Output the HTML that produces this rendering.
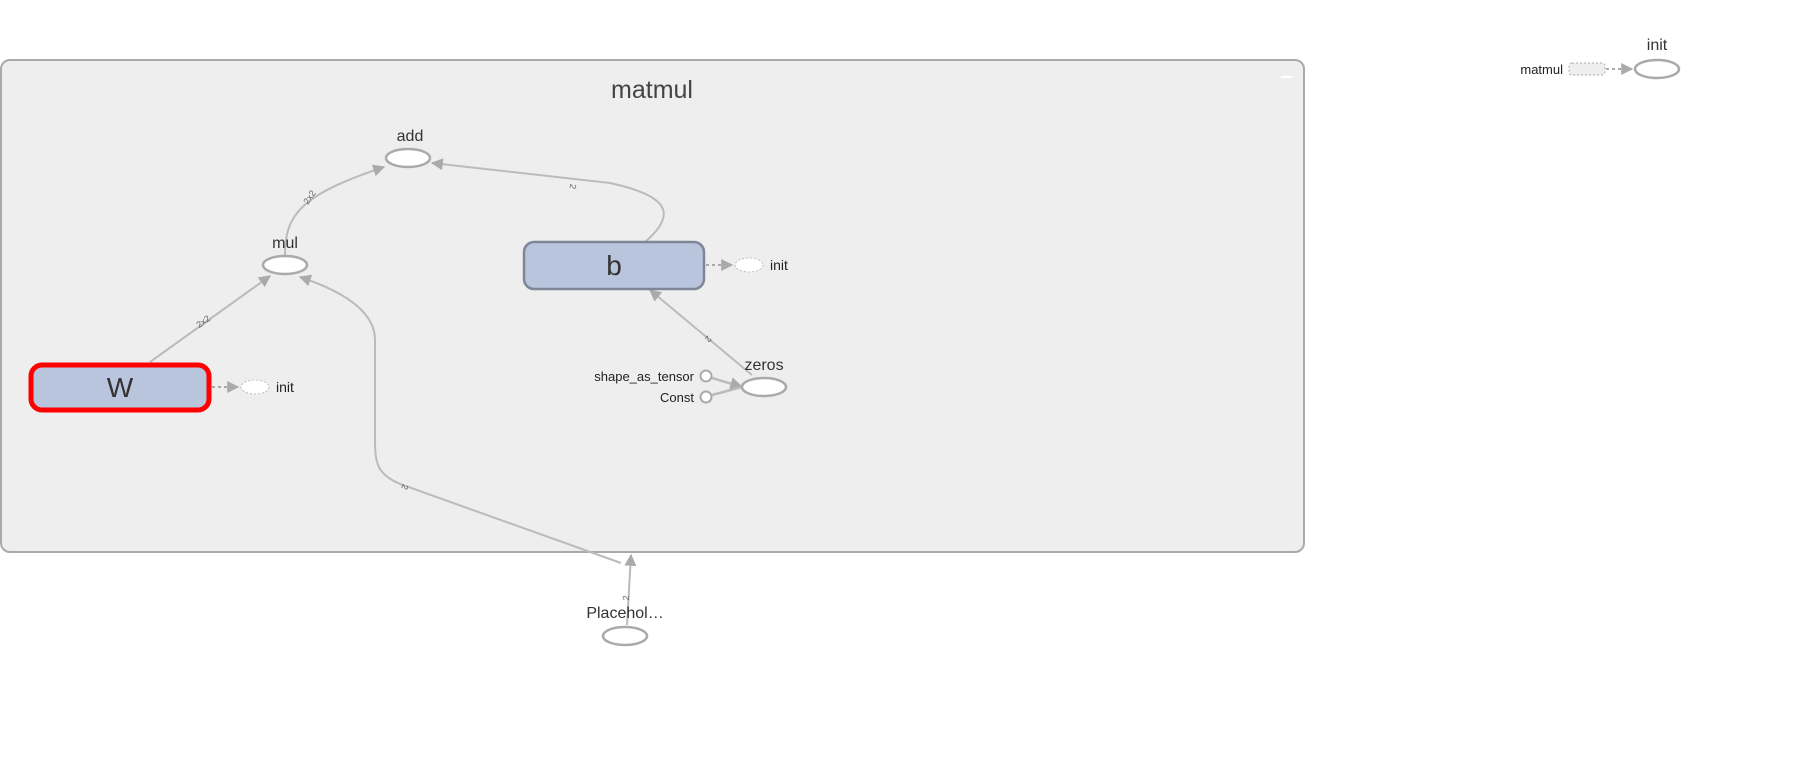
<!DOCTYPE html>
<html><head><meta charset="utf-8"><style>
html,body{margin:0;padding:0;background:#fff;width:1799px;height:766px;overflow:hidden}
svg{display:block;font-family:"Liberation Sans",Arial,sans-serif}
</style></head><body>
<svg width="1799" height="766" viewBox="0 0 1799 766">
<defs>
<marker id="ar" viewBox="0 0 10 10" refX="9" refY="5" markerWidth="12" markerHeight="12" markerUnits="userSpaceOnUse" orient="auto"><path d="M0,0 L10,5 L0,10 z" fill="#aaa"/></marker>
<marker id="arb" viewBox="0 0 10 10" refX="9" refY="5" markerWidth="13" markerHeight="13" markerUnits="userSpaceOnUse" orient="auto"><path d="M0,0 L10,5 L0,10 z" fill="#aaa"/></marker>
</defs>
<rect x="1" y="60" width="1303" height="492" rx="9" fill="#eeeeee" stroke="#aaa" stroke-width="2"/>
<text x="652" y="98" font-size="25" fill="#444" text-anchor="middle">matmul</text>
<rect x="1281" y="76" width="11" height="2" fill="#fff"/>

<g fill="none" stroke="#bbb" stroke-width="2">
<path d="M150,362 L270,276" marker-end="url(#ar)"/>
<path d="M285,255 C285,215 300,195 384,167" marker-end="url(#ar)"/>
<path d="M645,242 C680,212 665,195 610,183 L432,163" marker-end="url(#ar)"/>
<path d="M752,375 L650,290" marker-end="url(#ar)"/>
<path d="M712,378 L742,387" stroke-width="2.5" marker-end="url(#arb)"/>
<path d="M712,395 L742,387" stroke-width="2.5"/>
<path d="M621,563 L400,484 C378,474 375,465 375,440 L375,340 C375,312 345,292 300,277" marker-end="url(#ar)"/>
<path d="M627,625 L631,555" marker-end="url(#ar)"/>
</g>
<g fill="none" stroke="#aaa" stroke-width="2" stroke-dasharray="3,3">
<path d="M212,387 L238,387" marker-end="url(#ar)"/>
<path d="M706,265 L732,265" marker-end="url(#ar)"/>
<path d="M1606,69 L1632,69" marker-end="url(#ar)"/>
</g>

<g font-size="9" fill="#666" text-anchor="middle">
<text transform="translate(205,324) rotate(-36)">2x2</text>
<text transform="translate(312,199) rotate(-55)">2x2</text>
<text transform="translate(570,186) rotate(100)">2</text>
<text transform="translate(706,337) rotate(130)">2</text>
<text transform="translate(402,486) rotate(110)">2</text>
<text transform="translate(629,598) rotate(-88)">2</text>
</g>

<ellipse cx="408" cy="158" rx="22" ry="9" fill="#fff" stroke="#aaa" stroke-width="2.5"/>
<text x="410" y="141" font-size="16" fill="#333" text-anchor="middle">add</text>
<ellipse cx="285" cy="265" rx="22" ry="9" fill="#fff" stroke="#aaa" stroke-width="2.5"/>
<text x="285" y="248" font-size="16" fill="#333" text-anchor="middle">mul</text>

<rect x="524" y="242" width="180" height="47" rx="10" fill="#b9c4dd" stroke="#7f8696" stroke-width="2.5"/>
<text x="614" y="275" font-size="28" fill="#333" text-anchor="middle">b</text>
<ellipse cx="749" cy="265" rx="14" ry="7" fill="#fff" stroke="#bbb" stroke-dasharray="2,2"/>
<text x="770" y="270" font-size="14" fill="#222">init</text>

<rect x="31" y="365" width="178" height="45" rx="11" fill="#b9c4dd" stroke="#f00" stroke-width="5"/>
<text x="120" y="397" font-size="28" fill="#333" text-anchor="middle">W</text>
<ellipse cx="255" cy="387" rx="14" ry="7" fill="#fff" stroke="#bbb" stroke-dasharray="2,2"/>
<text x="276" y="392" font-size="14" fill="#222">init</text>

<ellipse cx="764" cy="387" rx="22" ry="9" fill="#fff" stroke="#aaa" stroke-width="2.5"/>
<text x="764" y="370" font-size="16" fill="#333" text-anchor="middle">zeros</text>
<circle cx="706" cy="376" r="5.5" fill="#fff" stroke="#aaa" stroke-width="2"/>
<circle cx="706" cy="397" r="5.5" fill="#fff" stroke="#aaa" stroke-width="2"/>
<text x="694" y="381" font-size="13" fill="#222" text-anchor="end">shape_as_tensor</text>
<text x="694" y="402" font-size="13" fill="#222" text-anchor="end">Const</text>

<ellipse cx="625" cy="636" rx="22" ry="9" fill="#fff" stroke="#aaa" stroke-width="2.5"/>
<text x="625" y="618" font-size="16" fill="#333" text-anchor="middle">Placehol…</text>

<text x="1657" y="50" font-size="16" fill="#333" text-anchor="middle">init</text>
<ellipse cx="1657" cy="69" rx="22" ry="9" fill="#fff" stroke="#aaa" stroke-width="2.5"/>
<rect x="1569" y="63" width="36" height="12" rx="3" fill="#eee" stroke="#aaa" stroke-dasharray="2,2"/>
<text x="1563" y="74" font-size="13" fill="#222" text-anchor="end">matmul</text>
</svg>
</body></html>
